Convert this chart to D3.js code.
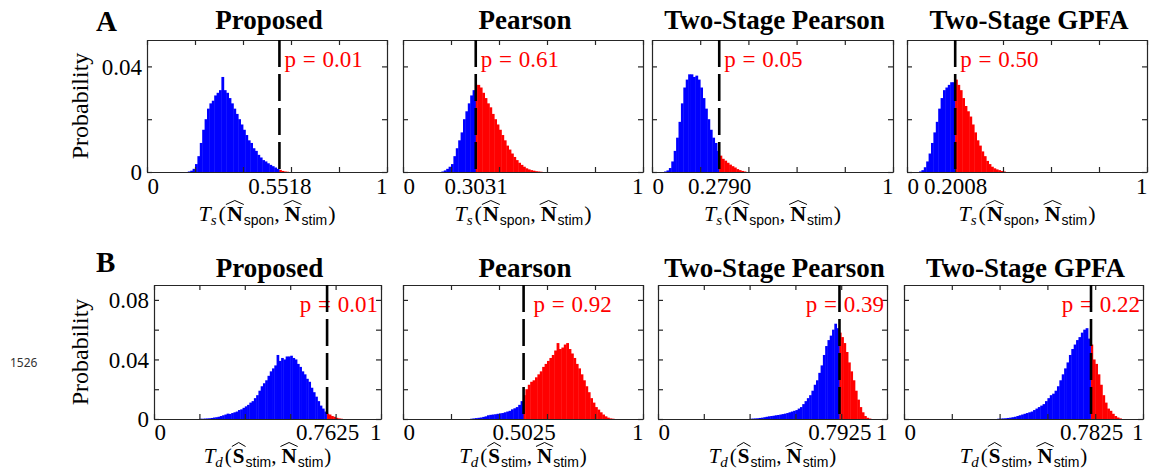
<!DOCTYPE html>
<html>
<head>
<meta charset="UTF-8" />
<script src="https://d3js.org/d3.v7.min.js"></script>
<title>Null distributions of the test statistics</title>
<style>
  body { margin: 0; background: #fff; }
</style>
</head>
<body>
<div id="chart"></div>
<script>
// ---------- data (bin width 0.01) ----------
var titles = ["Proposed", "Pearson", "Two-Stage Pearson", "Two-Stage GPFA"];
var binWidth = 0.01;
var xTicks = [0, 0.2, 0.4, 0.6, 0.8, 1];

// row A : T_s(N_spon, N_stim)
var sYTicks = [0, 0.02, 0.04];
var sYLabels = ["0", "", "0.04"];
var sStart = [0.17, 0.16, 0.05, 0.05];
var sProposed = [0.0002, 0.0005, 0.0012, 0.003, 0.006, 0.011, 0.016, 0.020, 0.024, 0.026,
  0.027, 0.029, 0.030, 0.031, 0.036, 0.031, 0.030, 0.028, 0.026, 0.024, 0.022, 0.020, 0.018,
  0.016, 0.014, 0.012, 0.011, 0.009, 0.008, 0.0065, 0.0055, 0.0045, 0.004, 0.0033, 0.0027,
  0.0022, 0.0017, 0.0012, 0.0008, 0.0004, 0.0002, 0.0001];
var sPearson = [0.0002, 0.0006, 0.0012, 0.002, 0.003, 0.006, 0.009, 0.012, 0.015, 0.020,
  0.023, 0.026, 0.029, 0.031, 0.033, 0.033, 0.032, 0.030, 0.028, 0.026, 0.0245, 0.022, 0.020,
  0.018, 0.016, 0.014, 0.012, 0.010, 0.0085, 0.007, 0.0057, 0.0045, 0.0035, 0.0027, 0.002,
  0.0014, 0.001, 0.0007, 0.0005, 0.0003, 0.0002, 0.0001];
var sTwoPearson = [0.0002, 0.0006, 0.0015, 0.004, 0.008, 0.013, 0.019, 0.026, 0.032, 0.035,
  0.037, 0.037, 0.036, 0.0365, 0.035, 0.032, 0.028, 0.024, 0.020, 0.016, 0.013, 0.011, 0.008,
  0.0062, 0.005, 0.0043, 0.0035, 0.0028, 0.0022, 0.0017, 0.0011, 0.0007, 0.0004, 0.0002];
var sTwoGPFA = [0.0002, 0.0007, 0.0018, 0.004, 0.007, 0.011, 0.015, 0.019, 0.024, 0.028,
  0.031, 0.032, 0.033, 0.034, 0.034, 0.035, 0.033, 0.031, 0.028, 0.025, 0.023, 0.021, 0.018,
  0.015, 0.012, 0.010, 0.0078, 0.006, 0.0042, 0.003, 0.002, 0.0014, 0.001, 0.0007, 0.0004, 0.0002];
var sThresh = [0.5518, 0.3031, 0.2790, 0.2008];
var sPval = ["0.01", "0.61", "0.05", "0.50"];

// row B : T_d(S_stim, N_stim)
var dYTicks = [0, 0.02, 0.04, 0.06, 0.08];
var dYLabels = ["0", "", "0.04", "", "0.08"];
var dStart = [0.20, 0.28, 0.40, 0.39];
var dProposed = [0.0002, 0.0002, 0.0003, 0.0004, 0.0005, 0.0007, 0.001, 0.0012, 0.0015, 0.002,
  0.0025, 0.003, 0.0036, 0.0034, 0.004, 0.0045, 0.005, 0.006, 0.0065, 0.0075, 0.0085, 0.0095,
  0.011, 0.012, 0.014, 0.016, 0.019, 0.022, 0.024, 0.026, 0.029, 0.032, 0.034, 0.036, 0.043,
  0.039, 0.041, 0.040, 0.042, 0.042, 0.0425, 0.041, 0.040, 0.037, 0.035, 0.032, 0.030, 0.027,
  0.025, 0.021, 0.018, 0.015, 0.012, 0.009, 0.007, 0.005, 0.0035, 0.003, 0.002, 0.0015, 0.0008,
  0.0004, 0.0002];
var dPearson = [0.0002, 0.0004, 0.0006, 0.0008, 0.001, 0.0014, 0.0018, 0.0025, 0.0028, 0.003,
  0.0032, 0.0035, 0.0038, 0.004, 0.0045, 0.005, 0.0055, 0.0065, 0.0072, 0.008, 0.0095, 0.012,
  0.016, 0.020, 0.023, 0.025, 0.026, 0.028, 0.030, 0.032, 0.035, 0.037, 0.039, 0.041, 0.043,
  0.046, 0.051, 0.047, 0.048, 0.050, 0.051, 0.047, 0.044, 0.041, 0.037, 0.034, 0.030, 0.026,
  0.022, 0.018, 0.014, 0.011, 0.008, 0.0063, 0.0045, 0.003, 0.0018, 0.0009, 0.0004, 0.0002];
var dTwoPearson = [0.0002, 0.0003, 0.0004, 0.0005, 0.0007, 0.0009, 0.0012, 0.0015, 0.0018, 0.002,
  0.0022, 0.0025, 0.0027, 0.003, 0.0033, 0.0036, 0.004, 0.0045, 0.005, 0.0055, 0.006, 0.007,
  0.008, 0.010, 0.012, 0.014, 0.016, 0.019, 0.023, 0.026, 0.031, 0.036, 0.043, 0.049, 0.053,
  0.056, 0.060, 0.064, 0.061, 0.058, 0.055, 0.051, 0.045, 0.038, 0.032, 0.026, 0.019, 0.013,
  0.008, 0.0045, 0.002, 0.0008, 0.0003];
var dTwoGPFA = [0.0002, 0.0003, 0.0004, 0.0005, 0.0007, 0.0009, 0.0012, 0.0015, 0.002, 0.0025,
  0.003, 0.0035, 0.004, 0.0045, 0.005, 0.006, 0.007, 0.008, 0.009, 0.010, 0.012, 0.014, 0.016,
  0.017, 0.019, 0.022, 0.026, 0.030, 0.034, 0.038, 0.043, 0.047, 0.050, 0.053, 0.055, 0.058,
  0.060, 0.061, 0.054, 0.050, 0.040, 0.037, 0.030, 0.023, 0.016, 0.011, 0.007, 0.0055, 0.0035,
  0.002, 0.001, 0.0004];
var dThresh = [0.7625, 0.5025, 0.7925, 0.7825];
var dPval = ["0.01", "0.92", "0.39", "0.22"];

// ---------- layout ----------
var W = 1159, H = 472;
var serif = "'Liberation Serif', 'Times New Roman', serif";
var sans = "'Liberation Sans', Arial, sans-serif";
var frameColor = "#262626";

var svg = d3.select("#chart").append("svg")
  .attr("width", W)
  .attr("height", H);

var rows = [
  {
    letter: "A", letterY: 31, titleY: 29, top: 40, bottom: 172, tickGap: 22, labelGap: 49, mathSize: 22,
    lefts: [147, 403, 652, 907], widths: [240, 240, 241, 240],
    yMax: 0.05, yTicks: sYTicks, yLabels: sYLabels,
    starts: sStart, hists: [sProposed, sPearson, sTwoPearson, sTwoGPFA],
    thresh: sThresh, pvals: sPval, pGap: 5,
    sub: "s", args: ["N", "N"], subs: ["spon", "stim"]
  },
  {
    letter: "B", letterY: 272, titleY: 277, top: 285, bottom: 419, tickGap: 21, labelGap: 44, mathSize: 21,
    lefts: [154, 403, 658, 904], widths: [227, 240, 229, 239],
    yMax: 0.09, yTicks: dYTicks, yLabels: dYLabels,
    starts: dStart, hists: [dProposed, dPearson, dTwoPearson, dTwoGPFA],
    thresh: dThresh, pvals: dPval, pGap: 10,
    sub: "d", args: ["S", "N"], subs: ["stim", "stim"]
  }
];

// lays out a math-like label piece by piece, hats drawn over bold letters
function mathLabel(g, cx, baseline, size, pieces) {
  var grp = g.append("g");
  var cursor = 0;
  pieces.forEach(function(p) {
    var x0 = cursor + (p.pre || 0);
    var t = grp.append("text")
      .attr("x", x0)
      .attr("y", baseline + (p.dy || 0))
      .style("font-family", p.font || serif)
      .style("font-size", (p.size || size) + "px")
      .style("font-style", p.italic ? "italic" : "normal")
      .style("font-weight", p.bold ? "bold" : "normal")
      .text(p.t);
    var w = t.node().getComputedTextLength();
    if (p.hat) {
      grp.append("path")
        .attr("d", "M" + (x0 - 1) + "," + (baseline - 16.5) + "L" + (x0 + w / 2) + "," + (baseline - 20.5) +
          "L" + (x0 + w + 1) + "," + (baseline - 16.5))
        .attr("fill", "none")
        .attr("stroke", "#000")
        .attr("stroke-width", 1);
    }
    cursor = x0 + w + (p.post || 0);
  });
  grp.attr("transform", "translate(" + (cx - cursor / 2) + ",0)");
}

rows.forEach(function(row) {
  // panel letter
  svg.append("text")
    .attr("x", 96)
    .attr("y", row.letterY)
    .style("font-family", serif)
    .style("font-weight", "bold")
    .style("font-size", "29px")
    .text(row.letter);

  titles.forEach(function(title, k) {
    var left = row.lefts[k], right = left + row.widths[k];
    var x = d3.scaleLinear().domain([0, 1]).range([left, right]);
    var y = d3.scaleLinear().domain([0, row.yMax]).range([row.bottom, row.top]);
    var g = svg.append("g");
    var t = row.thresh[k];

    // title
    g.append("text")
      .attr("x", (left + right) / 2 + 2)
      .attr("y", row.titleY)
      .attr("text-anchor", "middle")
      .style("font-family", serif)
      .style("font-weight", "bold")
      .style("font-size", "27px")
      .text(title);

    // histogram bins, split at the observed value
    var bins = [];
    row.hists[k].forEach(function(v, i) {
      var x0 = +(row.starts[k] + i * binWidth).toFixed(3);
      var x1 = +(x0 + binWidth).toFixed(3);
      if (x1 <= t) bins.push({ a: x0, b: x1, v: v, c: "#0000ff" });
      else if (x0 >= t) bins.push({ a: x0, b: x1, v: v, c: "#ff0000" });
      else {
        bins.push({ a: x0, b: t, v: v, c: "#0000ff" });
        bins.push({ a: t, b: x1, v: v, c: "#ff0000" });
      }
    });
    g.append("g").selectAll("rect")
      .data(bins)
      .enter()
      .append("rect")
      .attr("x", function(d) { return x(d.a); })
      .attr("width", function(d) { return x(d.b) - x(d.a) + 0.4; })
      .attr("y", function(d) { return y(d.v); })
      .attr("height", function(d) { return row.bottom - y(d.v); })
      .attr("fill", function(d) { return d.c; });

    // frame with inward ticks on all sides
    var axes = [
      { ax: d3.axisBottom(x).tickValues(xTicks), tr: "translate(0," + row.bottom + ")" },
      { ax: d3.axisTop(x).tickValues(xTicks), tr: "translate(0," + row.top + ")" },
      { ax: d3.axisLeft(y).tickValues(row.yTicks), tr: "translate(" + left + ",0)" },
      { ax: d3.axisRight(y).tickValues(row.yTicks), tr: "translate(" + right + ",0)" }
    ];
    axes.forEach(function(a) {
      var ag = g.append("g")
        .attr("transform", a.tr)
        .call(a.ax.tickSizeInner(-5).tickSizeOuter(0).tickFormat(""));
      ag.selectAll("path, line").attr("stroke", frameColor).attr("stroke-width", 1.2);
      ag.selectAll("text").remove();
    });

    // x tick labels: 0, observed value, 1
    var xl = g.append("g")
      .attr("transform", "translate(0," + row.bottom + ")")
      .call(d3.axisBottom(x).tickValues([0, t, 1]).tickSize(0)
        .tickFormat(function(d) { return d === 0 ? "0" : d === 1 ? "1" : d.toFixed(4); }));
    xl.select(".domain").remove();
    xl.selectAll("text")
      .attr("y", row.tickGap)
      .attr("dy", null)
      .attr("fill", "#000")
      .attr("text-anchor", function(d) { return d === 0 ? "start" : d === 1 ? "end" : "middle"; })
      .style("font-family", serif)
      .style("font-size", "23px");

    // y tick labels only on the first panel
    if (k === 0) {
      var yl = g.append("g")
        .attr("transform", "translate(" + left + ",0)")
        .call(d3.axisLeft(y).tickValues(row.yTicks).tickSize(0).tickPadding(5)
          .tickFormat(function(d, i) { return row.yLabels[i]; }));
      yl.select(".domain").remove();
      yl.selectAll("text")
        .attr("fill", "#000")
        .attr("dy", "0.34em")
        .style("font-family", serif)
        .style("font-size", "23px");

      g.append("text")
        .attr("transform", "translate(88," + (row.top + row.bottom) / 2 + ")rotate(-90)")
        .attr("text-anchor", "middle")
        .style("font-family", serif)
        .style("font-size", "24px")
        .text("Probability");
    }

    // p-value
    var pt = g.append("text")
      .attr("x", x(t) + row.pGap)
      .attr("y", row.top + 27)
      .attr("fill", "#ff0000")
      .style("font-family", serif)
      .style("font-size", "23px")
      .style("word-spacing", "1px")
      .text("p = " + row.pvals[k]);
    var pw = pt.node().getComputedTextLength();
    if (x(t) + row.pGap + pw > right - 3) {
      pt.attr("x", right - 3).attr("text-anchor", "end");
    }

    // observed statistic
    g.append("line")
      .attr("x1", x(t)).attr("x2", x(t))
      .attr("y1", row.top).attr("y2", row.bottom)
      .attr("stroke", "#000")
      .attr("stroke-width", 2.6)
      .attr("stroke-dasharray", "27,7");

    // axis label
    mathLabel(g, (left + right) / 2, row.bottom + row.labelGap, row.mathSize, [
      { t: "T", italic: true },
      { t: row.sub, italic: true, size: 15, dy: 4 },
      { t: "(", pre: 2 },
      { t: row.args[0], bold: true, hat: true, pre: 1 },
      { t: row.subs[0], font: sans, size: 14, dy: 4, pre: 1 },
      { t: ",", post: 5 },
      { t: row.args[1], bold: true, hat: true },
      { t: row.subs[1], font: sans, size: 14, dy: 4, pre: 1 },
      { t: ")", pre: 1 }
    ]);
  });
});

// stray page number in the margin
svg.append("text")
  .attr("x", 10)
  .attr("y", 367)
  .attr("fill", "#333")
  .style("font-family", "'Noto Sans', sans-serif")
  .style("font-size", "12px")
  .text("1526");
</script>
</body>
</html>
